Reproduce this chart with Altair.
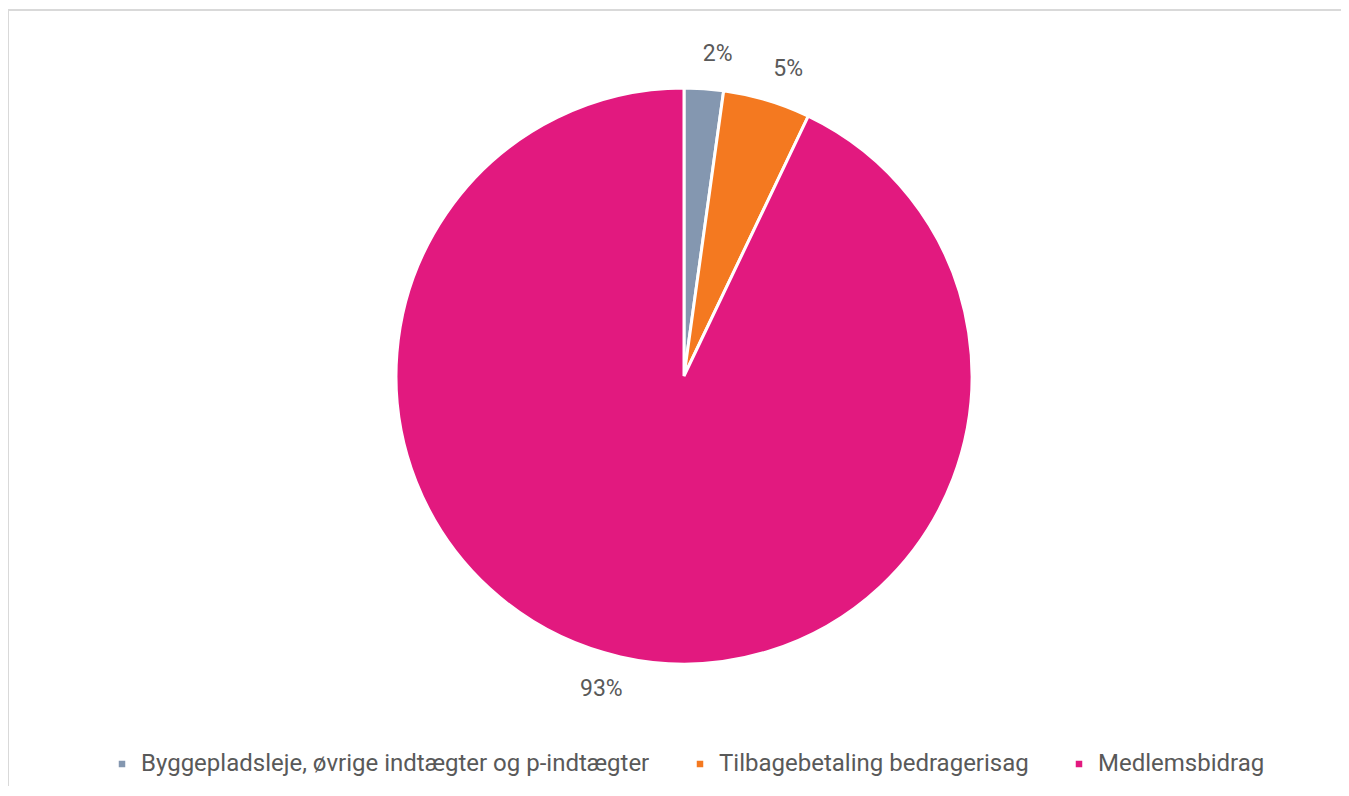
import altair as alt
import pandas as pd

categories = ["Byggepladsleje, øvrige indtægter og p-indtægter", "Tilbagebetaling bedragerisag", "Medlemsbidrag"]
values = [2.2, 4.9, 92.9]
labels = ["2%", "5%", "93%"]
colors = ["#8497B0", "#F47920", "#E2197F"]

df = pd.DataFrame({"cat": categories, "val": values, "lab": labels, "ord": [0, 1, 2]})

W, H = 1333, 776
CX, CY, R = 676, 366, 288

base = alt.Chart(df).encode(
    theta=alt.Theta("val:Q", stack=True),
    order=alt.Order("ord:Q"),
)

arcs = base.mark_arc(stroke="white", strokeWidth=3, radius=R).encode(
    x=alt.value(CX), y=alt.value(CY),
    color=alt.Color("cat:N", sort=categories,
                    scale=alt.Scale(domain=categories, range=colors),
                    legend=alt.Legend(title=None, orient="none", direction="horizontal",
                                      columns=3, legendX=102, legendY=742,
                                      symbolType="square", symbolSize=64,
                                      labelFontSize=24, labelFont="Roboto", labelColor="#595959",
                                      labelOffset=7, columnPadding=38, labelLimit=800)),
)

texts = base.mark_text(radius=324, thetaOffset=0.035, fontSize=23, font="Roboto", color="#595959").encode(
    x=alt.value(CX), y=alt.value(CY),
    text="lab:N",
)

border_top = alt.Chart(df).mark_rule(color="#D9D9D9", strokeWidth=2).encode(
    x=alt.value(0), x2=alt.value(W), y=alt.value(0)
)
border_left = alt.Chart(df).mark_rule(color="#D9D9D9", strokeWidth=2).encode(
    x=alt.value(0), y=alt.value(0), y2=alt.value(H + 20)
)

chart = alt.layer(border_top, border_left, arcs, texts).properties(
    width=W, height=H,
    padding={"left": 0, "top": 2, "right": 0, "bottom": 0},
    autosize=alt.AutoSizeParams(type="none"),
).configure_view(strokeOpacity=0)

chart.save("out.html", embed_options={"renderer": "svg", "actions": False})
